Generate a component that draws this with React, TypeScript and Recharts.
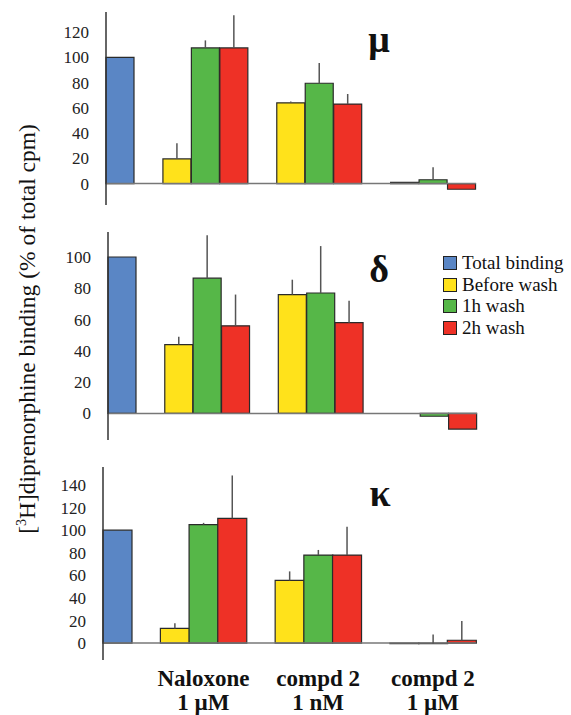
import React from "react";
import { BarChart, Bar, Cell, XAxis, YAxis, ErrorBar, ReferenceLine } from "recharts";

// treatment groups (x labels, two lines each)
const groupLabels = [
  ["Naloxone", "1 µM"],
  ["compd 2", "1 nM"],
  ["compd 2", "1 µM"],
];
const seriesNames = ["Total binding", "Before wash", "1h wash", "2h wash"];
const seriesColors = ["#5A86C5", "#FFE21B", "#56B748", "#EE3126"];

// mu receptor
const muTotal = 100;
const muBefore = [19.5, 64, 1];
const muBeforeErr = [12.5, 1, 0];
const mu1h = [107.5, 79.5, 3];
const mu1hErr = [6, 16, 10];
const mu2h = [107.5, 63, -4.5];
const mu2hErr = [26, 8, 0];

// delta receptor
const deltaTotal = 100;
const deltaBefore = [44, 76, 0];
const deltaBeforeErr = [5, 9.5, 0];
const delta1h = [86.5, 77, -1.8];
const delta1hErr = [27.5, 30, 0];
const delta2h = [56, 58, -10];
const delta2hErr = [20, 14, 0];

// kappa receptor
const kappaTotal = 100;
const kappaBefore = [13, 55.5, -0.5];
const kappaBeforeErr = [4.5, 8, 0];
const kappa1h = [105, 78, -0.5];
const kappa1hErr = [1.5, 4.5, 8];
const kappa2h = [110.5, 78, 2.5];
const kappa2hErr = [38, 25, 17];

const FONT = "Liberation Serif";

// one slot per bar: total, gap, then 3 bars per group separated by a gap
function buildSlots(total: number, series: number[][], errs: number[][]) {
  const rows: any[] = [];
  rows.push({ slot: 0, value: total, err: [0, 0], color: 0 });
  rows.push({ slot: 1, value: null, err: null, color: 0 });
  groupLabels.forEach((_, g) => {
    series.forEach((s, i) => {
      rows.push({ slot: rows.length, value: s[g], err: [0, errs[i][g]], color: i + 1, group: i === 1 ? g : -1 });
    });
    if (g < groupLabels.length - 1) rows.push({ slot: rows.length, value: null, err: null, color: 0 });
  });
  return rows;
}

const muData = buildSlots(muTotal, [muBefore, mu1h, mu2h], [muBeforeErr, mu1hErr, mu2hErr]);
const deltaData = buildSlots(deltaTotal, [deltaBefore, delta1h, delta2h], [deltaBeforeErr, delta1hErr, delta2hErr]);
const kappaData = buildSlots(kappaTotal, [kappaBefore, kappa1h, kappa2h], [kappaBeforeErr, kappa1hErr, kappa2hErr]);

const labelStyle = { fontFamily: FONT, fontWeight: "bold" as const, fontSize: 23 };

const GroupTick = ({ x, y, payload }: any) => {
  const row = kappaData[payload.value];
  if (!row || row.group === undefined || row.group < 0) return null;
  const [l1, l2] = groupLabels[row.group];
  return (
    <g>
      <text x={x} y={y + 18} textAnchor="middle" style={labelStyle} fill="#111">{l1}</text>
      <text x={x} y={y + 42} textAnchor="middle" style={labelStyle} fill="#111">{l2}</text>
    </g>
  );
};

function Panel({ data, top, height, left, right, domain, ticks, showX }: any) {
  return (
    <div style={{ position: "absolute", left: 0, top }}>
      <BarChart
        width={571}
        height={height}
        data={data}
        margin={{ top: 0, right: 571 - right, bottom: 0, left: 0 }}
        barCategoryGap={0}
        barGap={0}
      >
        <XAxis
          dataKey="slot"
          type="category"
          hide={!showX}
          height={showX ? 55 : 0}
          axisLine={false}
          tickLine={false}
          interval={0}
          tick={<GroupTick />}
        />
        <YAxis
          type="number"
          domain={domain}
          ticks={ticks}
          interval={0}
          width={left}
          tickSize={0}
          tickMargin={17}
          tickLine={false}
          axisLine={{ stroke: "#333", strokeWidth: 1.5 }}
          tick={{ fontSize: 17, fill: "#222", fontFamily: FONT }}
          allowDataOverflow
        />
        <ReferenceLine y={0} stroke="#777" strokeWidth={1.5} />
        <Bar dataKey="value" isAnimationActive={false} stroke="#2a2a2a" strokeWidth={1.2}>
          {data.map((row: any, i: number) => (
            <Cell key={`c-${i}`} fill={seriesColors[row.color]} />
          ))}
          <ErrorBar dataKey="err" width={0} stroke="#555" strokeWidth={1.5} />
        </Bar>
      </BarChart>
    </div>
  );
}

const greek = (ch: string, x: number, y: number) => (
  <div
    style={{
      position: "absolute",
      left: x - 30,
      width: 60,
      top: y,
      textAlign: "center",
      fontFamily: FONT,
      fontWeight: "bold",
      fontSize: 38,
      lineHeight: "38px",
      color: "#111",
    }}
  >
    {ch}
  </div>
);

export default function App() {
  return (
    <div style={{ position: "absolute", left: 0, top: 0, width: 571, height: 715, background: "#fff" }}>
      <Panel data={muData} top={12} height={193} left={106} right={476} domain={[-17, 136]} ticks={[0, 20, 40, 60, 80, 100, 120]} />
      <Panel data={deltaData} top={232} height={208} left={108} right={477} domain={[-17, 116]} ticks={[0, 20, 40, 60, 80, 100]} />
      <Panel data={kappaData} top={467} height={248} left={103} right={476} domain={[-15, 156]} ticks={[0, 20, 40, 60, 80, 100, 120, 140]} showX />

      {greek("μ", 379, 20)}
      {greek("δ", 379, 250)}
      {greek("κ", 380, 474)}

      <div style={{ position: "absolute", left: 443, top: 252, fontFamily: FONT, fontSize: 19, color: "#111" }}>
        {seriesNames.map((name, i) => (
          <div key={name} style={{ display: "flex", alignItems: "center", height: 21.7 }}>
            <span
              style={{
                display: "inline-block",
                width: 12,
                height: 12,
                background: seriesColors[i],
                border: "1.2px solid #222",
                marginRight: 5,
              }}
            />
            <span style={{ whiteSpace: "nowrap" }}>{name}</span>
          </div>
        ))}
      </div>

      <svg width={60} height={715} style={{ position: "absolute", left: 0, top: 0 }}>
        <text
          x={35}
          y={329}
          transform="rotate(-90 35 329)"
          textAnchor="middle"
          fontFamily={FONT}
          fontSize={23.5}
          fill="#111"
        >
          [<tspan fontSize={14} dy={-9}>3</tspan>
          <tspan dy={9}>H]diprenorphine binding (% of total cpm)</tspan>
        </text>
      </svg>
    </div>
  );
}
